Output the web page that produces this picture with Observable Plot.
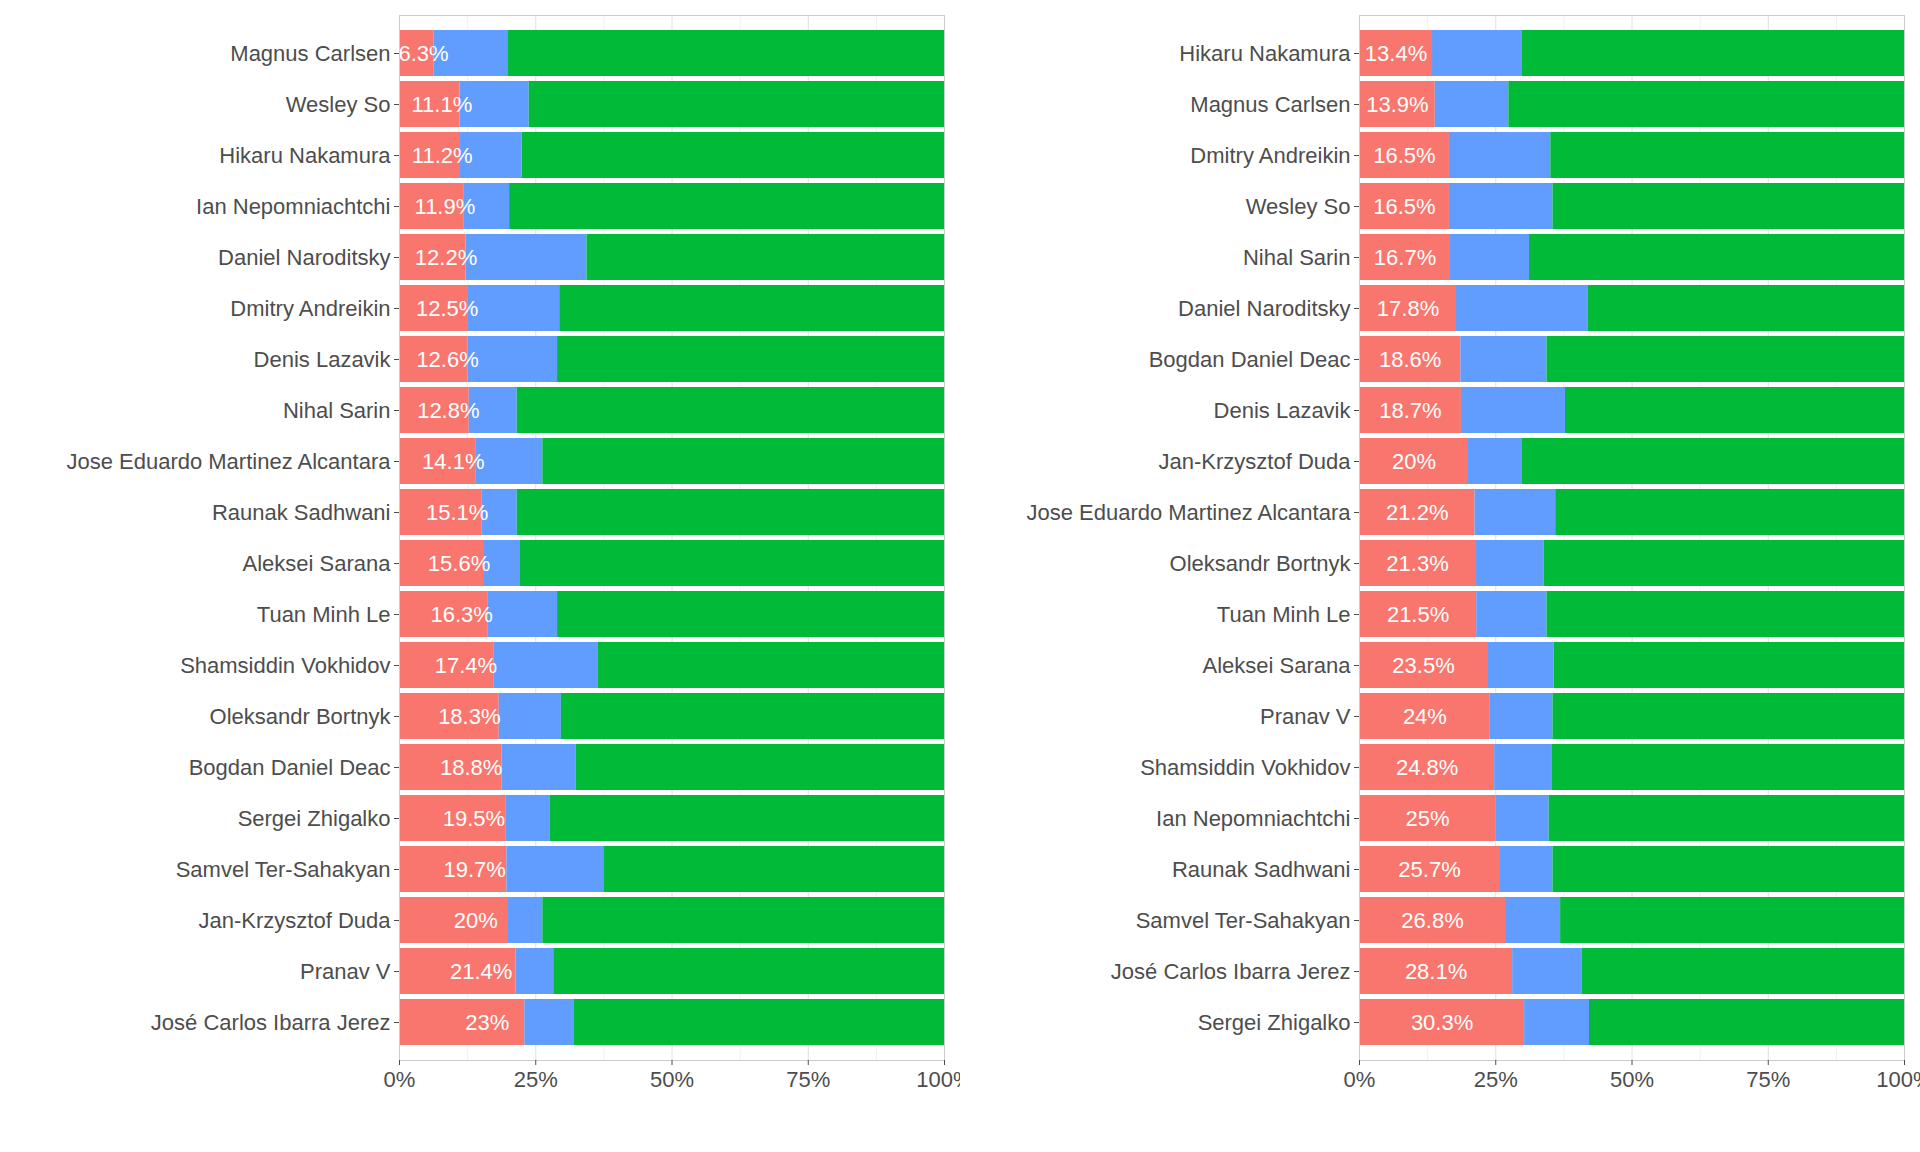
<!DOCTYPE html>
<html><head><meta charset="utf-8">
<script src="https://cdn.jsdelivr.net/npm/d3@7"></script>
<script src="https://cdn.jsdelivr.net/npm/@observablehq/plot@0.6"></script>
<style>
body{margin:0;background:#fff;font-family:"Liberation Sans",Arial,sans-serif}
#wrap{display:flex;width:1920px}
</style></head><body><div id="wrap"></div>
<script>
// left panel
const leftNames = ["Magnus Carlsen","Wesley So","Hikaru Nakamura","Ian Nepomniachtchi","Daniel Naroditsky","Dmitry Andreikin","Denis Lazavik","Nihal Sarin","Jose Eduardo Martinez Alcantara","Raunak Sadhwani","Aleksei Sarana","Tuan Minh Le","Shamsiddin Vokhidov","Oleksandr Bortnyk","Bogdan Daniel Deac","Sergei Zhigalko","Samvel Ter-Sahakyan","Jan-Krzysztof Duda","Pranav V","José Carlos Ibarra Jerez"]
const leftRed = [6.3,11.1,11.2,11.9,12.2,12.5,12.6,12.8,14.1,15.1,15.6,16.3,17.4,18.3,18.8,19.5,19.7,20,21.4,23]
const leftBlueEnd = [20,23.8,22.5,20.2,34.4,29.4,29,21.6,26.3,21.6,22.2,29,36.4,29.7,32.4,27.6,37.5,26.3,28.3,32.1]
// right panel
const rightNames = ["Hikaru Nakamura","Magnus Carlsen","Dmitry Andreikin","Wesley So","Nihal Sarin","Daniel Naroditsky","Bogdan Daniel Deac","Denis Lazavik","Jan-Krzysztof Duda","Jose Eduardo Martinez Alcantara","Oleksandr Bortnyk","Tuan Minh Le","Aleksei Sarana","Pranav V","Shamsiddin Vokhidov","Ian Nepomniachtchi","Raunak Sadhwani","Samvel Ter-Sahakyan","José Carlos Ibarra Jerez","Sergei Zhigalko"]
const rightRed = [13.4,13.9,16.5,16.5,16.7,17.8,18.6,18.7,20,21.2,21.3,21.5,23.5,24,24.8,25,25.7,26.8,28.1,30.3]
const rightBlueEnd = [29.9,27.4,35.1,35.5,31.2,42,34.4,37.8,29.9,36,33.9,34.4,35.7,35.5,35.3,34.8,35.5,36.9,40.9,42.2]

const colors = ["#F8766D","#619CFF","#00BA38"]

function panel(names, red, blueEnd, labelFactor) {
  const segs = []
  names.forEach((n, i) => {
    segs.push({name: n, x1: 0, x2: red[i], c: 0})
    segs.push({name: n, x1: red[i], x2: blueEnd[i], c: 1})
    segs.push({name: n, x1: blueEnd[i], x2: 100, c: 2})
  })
  const labels = names.map((n, i) => ({name: n, x: red[i] * labelFactor, t: red[i] + "%"}))
  return Plot.plot({
    width: 960, height: 1122,
    marginLeft: 399, marginRight: 16, marginTop: 15, marginBottom: 62,
    style: {fontFamily: '"Liberation Sans", Arial, sans-serif', fontSize: "22px", color: "#4d4d4d"},
    x: {domain: [0, 100], label: null},
    y: {domain: names, label: null, padding: 0.1, inset: 0},
    marks: [
      Plot.ruleX([12.5,37.5,62.5,87.5], {stroke: "#f0f0f0"}),
      Plot.ruleX([0,25,50,75,100], {stroke: "#e0e0e0"}),
      Plot.barX(segs, {y: "name", x1: "x1", x2: "x2", fill: d => colors[d.c]}),
      Plot.text(labels, {y: "name", x: "x", text: "t", fill: "white", fontSize: 22}),
      Plot.frame({stroke: "#cccccc"}),
      Plot.axisX({ticks: [0,25,50,75,100], tickFormat: d => d + "%", fontSize: 22, tickSize: 5, tickPadding: 6, label: null}),
      Plot.axisY({fontSize: 22, tickSize: 5, label: null, tickPadding: 4})
    ]
  })
}
const wrap = document.getElementById("wrap")
wrap.append(panel(leftNames, leftRed, leftBlueEnd, 0.7))
wrap.append(panel(rightNames, rightRed, rightBlueEnd, 0.5))
</script></body></html>
